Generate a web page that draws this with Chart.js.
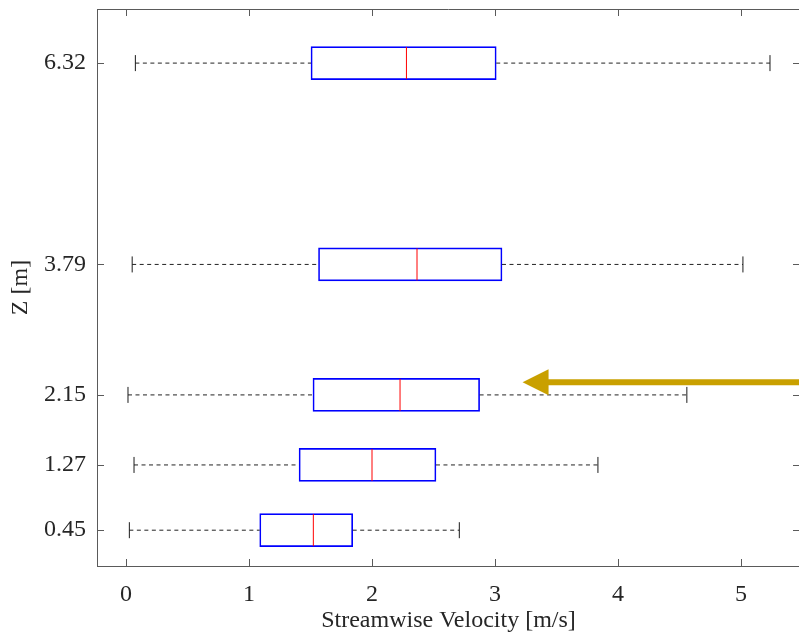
<!DOCTYPE html>
<html>
<head>
<meta charset="utf-8">
<script src="https://cdn.jsdelivr.net/npm/chart.js@4"></script>
<style>
  html, body { margin: 0; padding: 0; background: #fff; overflow: hidden; }
  #wrap { width: 803px; height: 633px; }
</style>
</head>
<body>
<div id="wrap"><canvas id="boxChart" width="803" height="633"></canvas></div>
<script>
// heights (m) and the box statistics
var zLevels     = [0.45, 1.27, 2.15, 3.79, 6.32];
var whiskerLow  = [0.027, 0.065, 0.016, 0.050, 0.076];
var q1          = [1.087, 1.407, 1.520, 1.565, 1.504];
var median      = [1.523, 2.000, 2.228, 2.366, 2.280];
var q3          = [1.843, 2.520, 2.875, 3.057, 3.010];
var whiskerHigh = [2.710, 3.837, 4.560, 5.016, 5.236];
var xTicks      = [0, 1, 2, 3, 4, 5];

// annotation arrow (data coords)
var arrowTip = {x: 3.224, y: 2.31};

var axisColor = '#5a5a5a';
var textColor = '#262626';
var serif = "'Liberation Serif', 'Times New Roman', serif";

var datasets = [];

// medians first so they sit on top
datasets.push({
    type: 'scatter',
    data: zLevels.map(function (z, i) { return {x: median[i], y: z}; }),
    pointStyle: 'line',
    rotation: 90,
    pointRadius: 16,
    pointBorderColor: '#ff0000',
    pointBorderWidth: 1,
    showLine: false
});

// whisker caps
var caps = [];
zLevels.forEach(function (z, i) {
    caps.push({x: whiskerLow[i], y: z});
    caps.push({x: whiskerHigh[i], y: z});
});
datasets.push({
    type: 'scatter',
    data: caps,
    pointStyle: 'line',
    rotation: 90,
    pointRadius: 8,
    pointBorderColor: '#1a1a1a',
    pointBorderWidth: 1,
    showLine: false
});

// dashed whiskers
zLevels.forEach(function (z, i) {
    [[whiskerLow[i], q1[i]], [q3[i], whiskerHigh[i]]].forEach(function (seg) {
        datasets.push({
            type: 'scatter',
            data: [{x: seg[0], y: z}, {x: seg[1], y: z}],
            showLine: true,
            borderColor: '#222222',
            borderWidth: 1,
            borderDash: [4, 3.5],
            pointRadius: 0
        });
    });
});

// boxes (floating horizontal bars)
datasets.push({
    type: 'bar',
    indexAxis: 'y',
    data: zLevels.map(function (z, i) { return {y: z, x: [q1[i], q3[i]]}; }),
    backgroundColor: 'rgba(255,255,255,0)',
    borderColor: '#0000ff',
    borderWidth: 1,
    borderSkipped: false,
    barThickness: 33
});

function noPad(s) {
    s.paddingTop = 0; s.paddingBottom = 0;
    s.paddingLeft = 0; s.paddingRight = 0;
}

var frame = {
    id: 'frame',
    afterDatasetsDraw: function (chart) {
        var ctx = chart.ctx, a = chart.chartArea;
        var sx = chart.scales.x, sy = chart.scales.y;
        ctx.save();
        ctx.strokeStyle = axisColor;
        ctx.lineWidth = 1;
        ctx.beginPath();
        ctx.moveTo(a.left, a.top + 0.5); ctx.lineTo(a.right, a.top + 0.5);
        ctx.moveTo(a.right - 0.5, a.top); ctx.lineTo(a.right - 0.5, a.bottom);
        xTicks.forEach(function (v) {
            var px = Math.round(sx.getPixelForValue(v)) + 0.5;
            ctx.moveTo(px, a.bottom); ctx.lineTo(px, a.bottom - 7);
            ctx.moveTo(px, a.top); ctx.lineTo(px, a.top + 7);
        });
        zLevels.forEach(function (v) {
            var py = Math.round(sy.getPixelForValue(v)) + 0.5;
            ctx.moveTo(a.left, py); ctx.lineTo(a.left + 7, py);
            ctx.moveTo(a.right, py); ctx.lineTo(a.right - 7, py);
        });
        ctx.stroke();

        // gold arrow
        var tx = sx.getPixelForValue(arrowTip.x), ty = sy.getPixelForValue(arrowTip.y);
        ctx.strokeStyle = '#c9a000';
        ctx.fillStyle = '#c9a000';
        ctx.lineWidth = 6;
        ctx.beginPath();
        ctx.moveTo(tx + 24, ty); ctx.lineTo(a.right + 10, ty);
        ctx.stroke();
        ctx.beginPath();
        ctx.moveTo(tx, ty);
        ctx.lineTo(tx + 26, ty - 13);
        ctx.lineTo(tx + 26, ty + 13);
        ctx.closePath();
        ctx.fill();
        ctx.restore();
    }
};

new Chart(document.getElementById('boxChart'), {
    data: {datasets: datasets},
    options: {
        responsive: false,
        devicePixelRatio: 1,
        animation: false,
        layout: {autoPadding: false, padding: {top: 9, right: 3, left: 0, bottom: 0}},
        plugins: {legend: {display: false}, tooltip: {enabled: false}},
        scales: {
            x: {
                type: 'linear',
                position: 'bottom',
                offset: false,
                min: -0.236,
                max: 5.48,
                afterBuildTicks: function (s) { s.ticks = xTicks.map(function (v) { return {value: v}; }); },
                afterFit: function (s) { s.height = 67; noPad(s); },
                grid: {display: true, drawOnChartArea: false, drawTicks: false, offset: false},
                border: {display: true, color: axisColor, width: 1},
                ticks: {
                    padding: 14,
                    color: textColor,
                    font: {family: serif, size: 24},
                    maxRotation: 0,
                    callback: function (v) { return String(v); }
                },
                title: {
                    display: true,
                    text: 'Streamwise Velocity [m/s]',
                    color: textColor,
                    font: {family: serif, size: 24, lineHeight: 1},
                    padding: {top: 0, bottom: 0}
                }
            },
            y: {
                type: 'linear',
                position: 'left',
                offset: false,
                min: 0,
                max: 7,
                afterBuildTicks: function (s) { s.ticks = zLevels.map(function (v) { return {value: v}; }); },
                afterFit: function (s) { s.width = 97; noPad(s); },
                grid: {display: true, drawOnChartArea: false, drawTicks: false, offset: false},
                border: {display: true, color: axisColor, width: 1},
                ticks: {
                    padding: 11,
                    color: textColor,
                    font: {family: serif, size: 24},
                    callback: function (v) { return v.toFixed(2); }
                },
                title: {
                    display: true,
                    text: 'Z [m]',
                    color: textColor,
                    font: {family: serif, size: 24, lineHeight: 1},
                    padding: {top: 9, bottom: 0}
                }
            }
        }
    },
    plugins: [frame]
});
</script>
</body>
</html>
